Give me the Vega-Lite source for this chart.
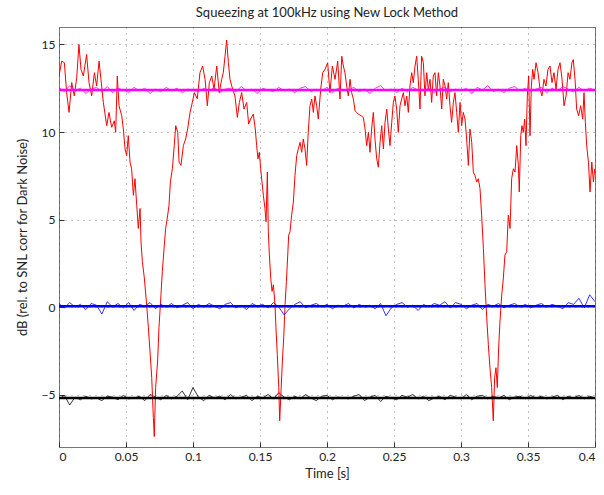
{
"$schema":"https://vega.github.io/schema/vega-lite/v6.json",
"width":536,"height":420,
"autosize":{"type":"none"},
"padding":{"left":59,"top":27,"right":9,"bottom":48},
"background":"white",
"title":{"text":"Squeezing at 100kHz using New Lock Method","font":"Lato","fontSize":13,"fontWeight":"normal","color":"#222","offset":7},
"config":{
 "view":{"stroke":"#777","strokeWidth":1},
 "axis":{"labelFont":"Lato","labelFontSize":12,"labelColor":"#222","titleFont":"Lato","titleFontSize":13,"titleFontWeight":"normal","titleColor":"#222","domain":false,"tickColor":"#333","tickSize":-5,"gridColor":"#333","gridDash":[1,5],"gridOpacity":0.6,"gridWidth":1}
},
"datasets":{
"red":[
{"t":0,"v":13.2},{"t":0.002,"v":14.05},{"t":0.004,"v":13.96},{"t":0.0057,"v":12.25},{"t":0.0075,"v":11.12},{"t":0.0095,"v":12.82},{"t":0.0114,"v":12.06},{"t":0.0132,"v":13.1},{"t":0.0149,"v":15.0},{"t":0.0164,"v":13.58},{"t":0.0182,"v":13.2},{"t":0.0206,"v":14.43},{"t":0.0224,"v":12.82},{"t":0.0244,"v":12.06},{"t":0.0264,"v":13.39},{"t":0.0281,"v":12.63},{"t":0.0299,"v":14.05},{"t":0.0313,"v":13.01},{"t":0.0331,"v":11.69},{"t":0.0356,"v":10.36},{"t":0.0373,"v":11.12},{"t":0.0393,"v":10.27},{"t":0.0413,"v":10.64},{"t":0.0423,"v":9.98},{"t":0.0435,"v":13.2},{"t":0.0448,"v":11.5},{"t":0.0468,"v":10.93},{"t":0.048,"v":10.17},{"t":0.0493,"v":9.03},{"t":0.0505,"v":8.65},{"t":0.0517,"v":9.79},{"t":0.053,"v":8.28},{"t":0.0542,"v":7.9},{"t":0.0555,"v":6.38},{"t":0.0567,"v":7.33},{"t":0.058,"v":5.81},{"t":0.0592,"v":4.49},{"t":0.0605,"v":5.63},{"t":0.0612,"v":3.73},{"t":0.0622,"v":2.6},{"t":0.0637,"v":1.65},{"t":0.0654,"v":0.13},{"t":0.0667,"v":-1.19},{"t":0.0679,"v":-2.52},{"t":0.0692,"v":-4.03},{"t":0.0704,"v":-6.31},{"t":0.0711,"v":-7.4},{"t":0.0721,"v":-4.6},{"t":0.0736,"v":-3.09},{"t":0.0746,"v":-1.19},{"t":0.0761,"v":0.7},{"t":0.0771,"v":2.03},{"t":0.0786,"v":3.54},{"t":0.0796,"v":4.49},{"t":0.0811,"v":5.25},{"t":0.0821,"v":5.81},{"t":0.0831,"v":7.14},{"t":0.0846,"v":7.9},{"t":0.086,"v":9.22},{"t":0.0871,"v":10.36},{"t":0.0886,"v":9.98},{"t":0.0896,"v":8.28},{"t":0.091,"v":8.09},{"t":0.0928,"v":9.22},{"t":0.0945,"v":9.6},{"t":0.096,"v":10.17},{"t":0.0978,"v":11.12},{"t":0.0995,"v":11.69},{"t":0.101,"v":12.25},
{"t":0.1032,"v":11.9},{"t":0.1052,"v":13.39},{"t":0.1072,"v":13.77},{"t":0.109,"v":13.01},{"t":0.1107,"v":11.5},{"t":0.1122,"v":12.82},{"t":0.114,"v":13.2},{"t":0.1157,"v":12.44},{"t":0.1177,"v":13.77},{"t":0.1196,"v":12.25},{"t":0.1214,"v":13.01},{"t":0.1226,"v":13.39},{"t":0.1239,"v":14.33},{"t":0.1251,"v":15.25},{"t":0.1264,"v":13.96},{"t":0.1276,"v":13.01},{"t":0.1296,"v":12.44},{"t":0.1313,"v":12.06},{"t":0.1331,"v":10.83},{"t":0.1346,"v":11.69},{"t":0.1363,"v":12.25},{"t":0.1381,"v":11.31},{"t":0.1401,"v":11.69},{"t":0.1415,"v":10.45},{"t":0.143,"v":10.74},{"t":0.145,"v":11.02},{"t":0.1465,"v":10.17},{"t":0.1475,"v":9.22},{"t":0.1485,"v":8.47},{"t":0.1495,"v":8.84},{"t":0.1505,"v":7.9},{"t":0.1515,"v":7.14},{"t":0.1525,"v":6.38},{"t":0.1537,"v":5.63},{"t":0.1545,"v":4.87},{"t":0.1555,"v":7.71},{"t":0.1562,"v":4.3},{"t":0.157,"v":2.97},{"t":0.158,"v":1.65},{"t":0.159,"v":0.89},{"t":0.16,"v":1.27},{"t":0.1612,"v":0.13},{"t":0.1619,"v":-1.19},{"t":0.1629,"v":-2.71},{"t":0.164,"v":-4.6},{"t":0.1647,"v":-6.5},{"t":0.1657,"v":-4.79},{"t":0.1667,"v":-3.09},{"t":0.1677,"v":-1.76},{"t":0.1687,"v":0.13},{"t":0.1697,"v":1.46},{"t":0.1707,"v":2.97},{"t":0.1714,"v":4.11},{"t":0.1724,"v":4.3},{"t":0.1736,"v":5.25},{"t":0.1749,"v":6.0},{"t":0.1761,"v":7.52},{"t":0.1774,"v":8.65},{"t":0.1786,"v":9.03},{"t":0.1799,"v":9.41},{"t":0.1811,"v":8.84},{"t":0.1823,"v":9.6},{"t":0.1836,"v":9.03},{"t":0.1848,"v":8.09},{"t":0.186,"v":9.98},{"t":0.1873,"v":11.5},{"t":0.1886,"v":11.88},{"t":0.1898,"v":11.12},{"t":0.191,"v":12.06},{"t":0.1923,"v":11.5},{"t":0.1935,"v":10.74},{"t":0.1953,"v":12.44},{"t":0.1968,"v":13.39},
{"t":0.1985,"v":13.58},{"t":0.2005,"v":13.96},{"t":0.2022,"v":12.25},{"t":0.204,"v":13.77},{"t":0.206,"v":13.01},{"t":0.208,"v":14.05},{"t":0.2097,"v":11.88},{"t":0.211,"v":14.33},{"t":0.2122,"v":13.77},{"t":0.2134,"v":13.39},{"t":0.2147,"v":12.63},{"t":0.2159,"v":12.06},{"t":0.2172,"v":13.01},{"t":0.2184,"v":12.25},{"t":0.2197,"v":11.88},{"t":0.2209,"v":11.21},{"t":0.2221,"v":11.12},{"t":0.2234,"v":11.02},{"t":0.2254,"v":10.93},{"t":0.2271,"v":10.83},{"t":0.2284,"v":10.17},{"t":0.2296,"v":9.22},{"t":0.2309,"v":9.98},{"t":0.2321,"v":8.84},{"t":0.2333,"v":10.17},{"t":0.2346,"v":11.12},{"t":0.2358,"v":9.6},{"t":0.2371,"v":8.47},{"t":0.2383,"v":7.99},{"t":0.2396,"v":9.41},{"t":0.2408,"v":10.36},{"t":0.2421,"v":9.03},{"t":0.2433,"v":10.55},{"t":0.2446,"v":11.31},{"t":0.2458,"v":10.17},{"t":0.247,"v":9.22},{"t":0.2483,"v":10.55},{"t":0.2495,"v":11.69},{"t":0.2507,"v":12.06},{"t":0.252,"v":11.31},{"t":0.2532,"v":9.98},{"t":0.2545,"v":11.5},{"t":0.2557,"v":11.88},{"t":0.257,"v":12.25},{"t":0.2582,"v":11.5},{"t":0.2595,"v":12.06},{"t":0.2607,"v":11.12},{"t":0.2619,"v":12.63},{"t":0.2632,"v":13.39},{"t":0.2644,"v":12.82},{"t":0.2657,"v":13.77},{"t":0.2669,"v":14.33},{"t":0.2681,"v":13.01},{"t":0.2694,"v":11.31},{"t":0.2706,"v":14.33},{"t":0.2719,"v":13.96},{"t":0.2731,"v":12.06},{"t":0.2744,"v":13.39},{"t":0.2756,"v":12.44},{"t":0.2769,"v":13.01},{"t":0.2781,"v":11.69},{"t":0.2793,"v":13.2},{"t":0.2806,"v":13.39},{"t":0.2818,"v":12.06},{"t":0.2831,"v":13.39},{"t":0.2843,"v":12.63},{"t":0.2856,"v":11.31},{"t":0.2868,"v":13.01},{"t":0.2881,"v":12.63},{"t":0.2893,"v":11.88},{"t":0.2905,"v":12.82},{"t":0.2918,"v":11.5},{"t":0.293,"v":10.55},{"t":0.2943,"v":11.69},{"t":0.2955,"v":12.25},{"t":0.2968,"v":11.12},{"t":0.298,"v":9.98},
{"t":0.2993,"v":11.69},{"t":0.3005,"v":10.36},{"t":0.3017,"v":11.12},{"t":0.303,"v":10.74},{"t":0.3042,"v":9.6},{"t":0.3055,"v":8.09},{"t":0.3067,"v":10.17},{"t":0.308,"v":9.41},{"t":0.3092,"v":7.71},{"t":0.3104,"v":7.52},{"t":0.3117,"v":7.14},{"t":0.3129,"v":7.33},{"t":0.3142,"v":6.76},{"t":0.3154,"v":5.25},{"t":0.3167,"v":3.35},{"t":0.3179,"v":1.27},{"t":0.3192,"v":-0.62},{"t":0.3204,"v":-2.14},{"t":0.3216,"v":-3.47},{"t":0.3229,"v":-4.6},{"t":0.3241,"v":-6.5},{"t":0.3251,"v":-4.03},{"t":0.3261,"v":-3.47},{"t":0.3271,"v":-4.6},{"t":0.3281,"v":-2.33},{"t":0.3291,"v":-0.81},{"t":0.3304,"v":0.7},{"t":0.3316,"v":1.65},{"t":0.3328,"v":2.97},{"t":0.3341,"v":3.16},{"t":0.3353,"v":5.25},{"t":0.3366,"v":4.49},{"t":0.3378,"v":7.33},{"t":0.3391,"v":7.9},{"t":0.3403,"v":7.71},{"t":0.3416,"v":9.22},{"t":0.3428,"v":8.09},{"t":0.3435,"v":6.57},{"t":0.3446,"v":9.79},{"t":0.3455,"v":10.36},{"t":0.3465,"v":9.98},{"t":0.3475,"v":10.74},{"t":0.3485,"v":9.22},{"t":0.3495,"v":12.06},{"t":0.3505,"v":13.2},{"t":0.3515,"v":9.79},{"t":0.3525,"v":12.63},{"t":0.3535,"v":13.58},{"t":0.3545,"v":13.01},{"t":0.356,"v":13.96},{"t":0.3575,"v":13.39},{"t":0.359,"v":12.44},{"t":0.3604,"v":12.06},{"t":0.3619,"v":13.01},{"t":0.3634,"v":12.63},{"t":0.3649,"v":13.58},{"t":0.3664,"v":13.77},{"t":0.3679,"v":12.82},{"t":0.3694,"v":13.39},{"t":0.3709,"v":12.44},{"t":0.3724,"v":13.58},{"t":0.3739,"v":13.96},{"t":0.3754,"v":13.01},{"t":0.3769,"v":11.5},{"t":0.3784,"v":12.06},{"t":0.3799,"v":13.39},{"t":0.3813,"v":13.01},{"t":0.3828,"v":13.96},{"t":0.3838,"v":14.14},{"t":0.3851,"v":13.01},{"t":0.3863,"v":11.31},{"t":0.3878,"v":10.93},{"t":0.3893,"v":11.5},{"t":0.3908,"v":10.74},{"t":0.3918,"v":12.25},{"t":0.3928,"v":10.55},{"t":0.3938,"v":9.22},{"t":0.3951,"v":8.28},{"t":0.3963,"v":6.57},{"t":0.3976,"v":8.28},{"t":0.3988,"v":7.14},{"t":0.3998,"v":7.9}
],
"noise":[
{"t":0,"m":12.55,"b":0.2,"k":-5.25},{"t":0.004,"m":12.3,"b":-0.05,"k":-5.05},{"t":0.008,"m":12.65,"b":0.25,"k":-5.6},{"t":0.012,"m":12.35,"b":0,"k":-5.15},{"t":0.016,"m":12.5,"b":0.15,"k":-5.3},{"t":0.02,"m":12.2,"b":-0.15,"k":-5.1},{"t":0.024,"m":12.45,"b":0.2,"k":-5.25},{"t":0.028,"m":12.55,"b":0.1,"k":-5.2},{"t":0.032,"m":12.3,"b":-0.4,"k":-5.35},{"t":0.036,"m":12.6,"b":0.3,"k":-5.1},
{"t":0.04,"m":12.25,"b":0,"k":-5.15},{"t":0.044,"m":12.5,"b":0.2,"k":-5.3},{"t":0.048,"m":12.4,"b":-0.05,"k":-5.05},{"t":0.052,"m":12.25,"b":0.25,"k":-5.25},{"t":0.056,"m":12.55,"b":-0.2,"k":-5.2},{"t":0.06,"m":12.35,"b":0.15,"k":-5.1},{"t":0.064,"m":12.5,"b":0.05,"k":-5.35},{"t":0.068,"m":12.2,"b":0.25,"k":-5.0},{"t":0.072,"m":12.45,"b":-0.1,"k":-5.15},{"t":0.076,"m":12.3,"b":0.15,"k":-5.3},
{"t":0.08,"m":12.55,"b":0,"k":-5.05},{"t":0.084,"m":12.35,"b":0.2,"k":-5.25},{"t":0.088,"m":12.5,"b":-0.05,"k":-5.1},{"t":0.092,"m":12.25,"b":0.1,"k":-4.8},{"t":0.096,"m":12.45,"b":0.25,"k":-5.3},{"t":0.1,"m":12.4,"b":-0.1,"k":-4.6},{"t":0.104,"m":12.3,"b":0.15,"k":-5.15},{"t":0.108,"m":12.5,"b":0,"k":-5.35},{"t":0.112,"m":12.35,"b":0.2,"k":-5.05},{"t":0.116,"m":12.55,"b":0.05,"k":-5.2},
{"t":0.12,"m":12.25,"b":-0.1,"k":-5.1},{"t":0.124,"m":12.45,"b":0.15,"k":-5.3},{"t":0.128,"m":12.5,"b":0.25,"k":-5.0},{"t":0.132,"m":12.3,"b":-0.05,"k":-5.25},{"t":0.136,"m":12.6,"b":0.1,"k":-5.15},{"t":0.14,"m":12.35,"b":-0.15,"k":-5.05},{"t":0.144,"m":12.45,"b":0.2,"k":-5.35},{"t":0.148,"m":12.2,"b":0.05,"k":-5.1},{"t":0.152,"m":12.5,"b":0.15,"k":-5.2},{"t":0.156,"m":12.4,"b":-0.05,"k":-5.0},
{"t":0.16,"m":12.3,"b":0.25,"k":-5.25},{"t":0.164,"m":12.55,"b":0,"k":-4.9},{"t":0.168,"m":12.35,"b":-0.45,"k":-5.15},{"t":0.172,"m":12.45,"b":-0.1,"k":-5.3},{"t":0.176,"m":12.25,"b":0.15,"k":-5.1},{"t":0.18,"m":12.5,"b":0.3,"k":-5.25},{"t":0.184,"m":12.6,"b":-0.05,"k":-5.0},{"t":0.188,"m":12.3,"b":0.1,"k":-5.2},{"t":0.192,"m":12.45,"b":0.2,"k":-5.35},{"t":0.196,"m":12.35,"b":0,"k":-5.1},
{"t":0.2,"m":12.55,"b":0.15,"k":-5.05},{"t":0.204,"m":12.25,"b":-0.1,"k":-5.3},{"t":0.208,"m":12.5,"b":0.1,"k":-5.15},{"t":0.212,"m":12.35,"b":0.05,"k":-5.2},{"t":0.216,"m":12.4,"b":0.2,"k":-5.25},{"t":0.22,"m":12.55,"b":-0.05,"k":-5.1},{"t":0.224,"m":12.3,"b":0.15,"k":-5.0},{"t":0.228,"m":12.45,"b":0,"k":-5.35},{"t":0.232,"m":12.2,"b":0.1,"k":-5.15},{"t":0.236,"m":12.5,"b":-0.1,"k":-5.05},
{"t":0.24,"m":12.65,"b":0.2,"k":-5.4},{"t":0.244,"m":12.35,"b":-0.5,"k":-5.1},{"t":0.248,"m":12.45,"b":-0.05,"k":-5.2},{"t":0.252,"m":12.25,"b":0.15,"k":-5.3},{"t":0.256,"m":12.5,"b":0.25,"k":-5.05},{"t":0.26,"m":12.3,"b":0,"k":-5.15},{"t":0.264,"m":12.55,"b":0.1,"k":-5.0},{"t":0.268,"m":12.4,"b":-0.2,"k":-5.25},{"t":0.272,"m":12.35,"b":0.15,"k":-5.1},{"t":0.276,"m":12.5,"b":0,"k":-5.35},
{"t":0.28,"m":12.25,"b":0.2,"k":-5.2},{"t":0.284,"m":12.45,"b":0.1,"k":-5.1},{"t":0.288,"m":12.55,"b":0.3,"k":-5.3},{"t":0.292,"m":12.3,"b":-0.05,"k":-5.05},{"t":0.296,"m":12.45,"b":0.25,"k":-5.15},{"t":0.3,"m":12.35,"b":0.15,"k":-5.25},{"t":0.304,"m":12.5,"b":-0.1,"k":-5.0},{"t":0.308,"m":12.2,"b":0.1,"k":-5.3},{"t":0.312,"m":12.55,"b":0.2,"k":-5.1},{"t":0.316,"m":12.4,"b":-0.15,"k":-5.05},
{"t":0.32,"m":12.65,"b":0.15,"k":-5.25},{"t":0.324,"m":12.3,"b":0.05,"k":-5.1},{"t":0.328,"m":12.45,"b":0.2,"k":-5.2},{"t":0.332,"m":12.25,"b":-0.05,"k":-5.05},{"t":0.336,"m":12.5,"b":0.1,"k":-5.3},{"t":0.34,"m":12.6,"b":0.2,"k":-5.15},{"t":0.344,"m":12.35,"b":0,"k":-5.1},{"t":0.348,"m":12.5,"b":0.15,"k":-5.25},{"t":0.352,"m":12.3,"b":-0.05,"k":-5.05},{"t":0.356,"m":12.45,"b":0.1,"k":-5.2},
{"t":0.36,"m":12.55,"b":0.2,"k":-5.1},{"t":0.364,"m":12.25,"b":0,"k":-5.25},{"t":0.368,"m":12.5,"b":0.15,"k":-5.15},{"t":0.372,"m":12.35,"b":0.05,"k":-5.05},{"t":0.376,"m":12.6,"b":-0.1,"k":-5.3},{"t":0.38,"m":12.45,"b":0.25,"k":-5.1},{"t":0.384,"m":12.3,"b":0.15,"k":-5.2},{"t":0.388,"m":12.55,"b":0.5,"k":-5.05},{"t":0.392,"m":12.35,"b":-0.05,"k":-5.25},{"t":0.396,"m":12.5,"b":0.7,"k":-5.1},
{"t":0.4,"m":12.4,"b":0.3,"k":-5.2}
],
"levels":[{"s":"magenta","v":12.4},{"s":"blue","v":0.05},{"s":"black","v":-5.2}]
},
"layer":[
{"data":{"name":"noise"},"mark":{"type":"line","color":"#000000","strokeWidth":0.8,"clip":true},
 "encoding":{"x":{"field":"t","type":"quantitative","scale":{"domain":[0,0.4],"nice":false},"axis":{"title":"Time [s]","values":[0,0.05,0.1,0.15,0.2,0.25,0.3,0.35,0.4],"format":"~g","labelPadding":9,"titlePadding":5}},
 "y":{"field":"k","type":"quantitative","scale":{"domain":[-8,16],"nice":false,"zero":false},"axis":{"title":"dB (rel. to SNL corr for Dark Noise)","values":[-5,0,5,10,15],"format":"~g","labelPadding":9,"titlePadding":12}}}},
{"data":{"name":"red"},"mark":{"type":"line","color":"#ff0000","strokeWidth":1,"clip":true},
 "encoding":{"x":{"field":"t","type":"quantitative"},"y":{"field":"v","type":"quantitative"}}},
{"data":{"name":"noise"},"mark":{"type":"line","color":"#0000ff","strokeWidth":0.8,"clip":true},
 "encoding":{"x":{"field":"t","type":"quantitative"},"y":{"field":"b","type":"quantitative"}}},
{"data":{"name":"noise"},"mark":{"type":"line","color":"#ff00ff","strokeWidth":0.8,"clip":true},
 "encoding":{"x":{"field":"t","type":"quantitative"},"y":{"field":"m","type":"quantitative"}}},
{"data":{"name":"levels"},"mark":{"type":"rule","strokeWidth":2.5},
 "encoding":{"y":{"field":"v","type":"quantitative"},"color":{"field":"s","type":"nominal","scale":{"domain":["magenta","blue","black"],"range":["#ff00ff","#0000ff","#000000"]},"legend":null}}}
]
}
